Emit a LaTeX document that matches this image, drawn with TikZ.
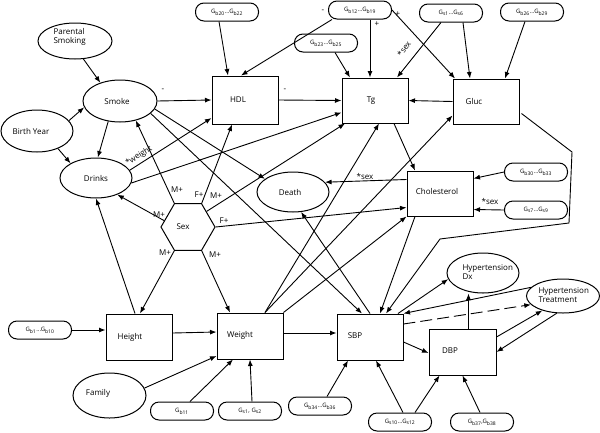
\documentclass[tikz,border=0pt]{standalone}
\usepackage{fontspec}
\setmainfont{Open Sans}
\usetikzlibrary{arrows.meta,shapes.geometric}
\begin{document}
\begin{tikzpicture}[x=1pt,y=-1pt,
  every node/.style={font=\fontsize{8}{9.5}\selectfont},
  ell/.style={draw,line width=1pt,ellipse,inner sep=0pt},
  box/.style={draw,line width=1pt,rectangle,inner sep=0pt,minimum width=66pt,minimum height=46pt},
  gene/.style={draw,line width=1pt,rounded corners=8.5pt,minimum width=63pt,minimum height=18pt,inner sep=0pt,font=\fontsize{6}{7}\selectfont},
  arr/.style={line width=0.9pt,-{Latex[length=6.5pt,width=5pt]}},
  lin/.style={line width=0.9pt},
  lbl/.style={inner sep=0.5pt,font=\fontsize{8}{9.5}\selectfont},
]
\useasboundingbox (0,0) rectangle (600,432);
% ellipses
\node[ell,minimum width=74pt,minimum height=36pt,align=left] (ps) at (75,41) {};
\node[align=left,anchor=west] (pst) at (50,37) {Parental\\Smoking};
\node[ell,minimum width=74pt,minimum height=42pt] (smoke) at (120,101) {};
\node (smoket) at (117,101) {Smoke};
\node[ell,minimum width=72pt,minimum height=42pt] (by) at (37,131) {};
\node (byt) at (31,131) {Birth Year};
\node[ell,minimum width=72pt,minimum height=40pt] (drinks) at (96,178) {Drinks};
\node[ell,minimum width=72pt,minimum height=40pt] (death) at (293,192) {};
\node (deatht) at (290,192) {Death};
\node[ell,minimum width=72pt,minimum height=40pt] (htdx) at (483,273) {};
\node[align=left,anchor=west] (htdxt) at (459,272) {Hypertension\\Dx};
\node[ell,minimum width=73pt,minimum height=34pt] (htt) at (563,296) {};
\node[align=left,anchor=west] (httt) at (535,295) {Hypertension\\Treatment};
\node[ell,minimum width=73pt,minimum height=45pt] (family) at (109.5,395.5) {};
\node (familyt) at (98,393) {Family};
% hexagon
\node[draw,line width=1pt,regular polygon,regular polygon sides=6,minimum size=54pt,inner sep=0pt] (sex) at (188,227) {};
\node (sext) at (183,227) {Sex};
% boxes
\node[box,minimum height=48pt] (hdl) at (245,100) {};
\node (hdlt) at (238,100) {HDL};
\node[box,minimum height=45pt] (tg) at (375,100.5) {};
\node (tgt) at (371,100.5) {Tg};
\node[box,minimum height=45pt] (gluc) at (486,101.5) {};
\node (gluct) at (474,101.5) {Gluc};
\node[box,minimum height=45pt] (chol) at (440,193.5) {};
\node (cholt) at (437,191) {Cholesterol};
\node[box] (height) at (139,337) {};
\node (heightt) at (130,337) {Height};
\node[box] (weight) at (250,336) {};
\node (weightt) at (240,335) {Weight};
\node[box] (sbp) at (370,337) {};
\node (sbpt) at (355,336) {SBP};
\node[box,minimum width=67pt] (dbp) at (462.5,352) {};
\node (dbpt) at (450,351) {DBP};
% genes
\node[gene] (g2022) at (227,12) {G\textsubscript{b20}...G\textsubscript{b22}};
\node[gene] (g1219) at (360,10) {G\textsubscript{b12}...G\textsubscript{b19}};
\node[gene] (g2325) at (326,43) {G\textsubscript{b23}...G\textsubscript{b25}};
\node[gene] (gs16) at (451,13) {G\textsubscript{s1}...G\textsubscript{s6}};
\node[gene] (g2629) at (532,12) {G\textsubscript{b26}...G\textsubscript{b29}};
\node[gene] (g3033) at (536,172) {G\textsubscript{b30}...G\textsubscript{b33}};
\node[gene] (gs79) at (536,210) {G\textsubscript{s7}...G\textsubscript{s9}};
\node[gene] (g110) at (40,330) {G\textsubscript{b1}...G\textsubscript{b10}};
\node[gene] (g11) at (182,411) {G\textsubscript{b11}};
\node[gene] (gs12) at (250,411) {G\textsubscript{s1}, G\textsubscript{s2}};
\node[gene] (g3436) at (320,406) {G\textsubscript{b34}...G\textsubscript{b36}};
\node[gene] (gs1012) at (400,422) {G\textsubscript{s10}...G\textsubscript{s12}};
\node[gene] (g3738) at (482,422) {G\textsubscript{b37},G\textsubscript{b38}};
% edges
\draw[arr] (ps.-65) -- (smoke.137);
\draw[arr] (by.18) -- (smoke.190);
\draw[arr] (by.-40) -- (drinks.150);
\draw[arr] (smoke.-120) -- (drinks.85);
\draw[arr] (smoke.east) -- (hdl.west);
\draw[arr] (hdl.east) -- (tg.west);
\draw[arr] (gluc.west) -- (tg.east);
\draw[arr] ([xshift=-8pt]g2022.south) -- ([xshift=-17pt]hdl.north);
\draw[arr] ([xshift=-28pt]g1219.south) -- ([xshift=-4pt]hdl.north);
\draw[arr] ([xshift=10pt]g1219.south) -- ([xshift=-5pt]tg.north);
\draw[arr] (g1219.east) -- ([xshift=-31pt]gluc.north);
\draw[arr] ([xshift=9pt]g2325.south) -- ([xshift=-25pt]tg.north);
\draw[arr] ([xshift=-10pt]gs16.south) -- ([xshift=22pt]tg.north);
\draw[arr] ([xshift=12pt]gs16.south) -- ([xshift=-16pt]gluc.north);
\draw[arr] ([xshift=-7pt]g2629.south) -- ([xshift=19pt]gluc.north);
\draw[arr] ([xshift=19pt]tg.south) -- ([xshift=-25pt]chol.north);
\draw[arr] ([yshift=14pt]chol.west) -- (death.17);
\draw[arr] (g3033.west) -- ([yshift=15pt]chol.east);
\draw[arr] (gs79.west) -- ([yshift=-16pt]chol.east);
\coordinate (c1) at (572,152);
\coordinate (c2) at (569,223);
\coordinate (c3) at (440,239);
\draw[arr] ([xshift=2pt,yshift=-12pt]gluc.east) -- (c1) -- (c2) -- (c3) -- ([xshift=16pt]sbp.north);
\draw[arr] (smoke.-13) -- (death.155);
\draw[arr] (smoke.-22) -- ([xshift=-8pt]sbp.north);
\draw[arr] (drinks.13) -- ([yshift=-18pt]hdl.west);
\draw[arr] (drinks.-8) -- ([yshift=-12pt]tg.west);
\draw[arr] (sex.120) -- (smoke.-51);
\draw[arr] (sex.165) -- (drinks.-38);
\draw[arr] (sex.60) -- ([xshift=-13pt]hdl.south);
\draw[arr] (sex.40) -- ([xshift=-30pt]tg.south);
\draw[arr] (sex.east) -- ([yshift=-14pt]chol.west);
\draw[arr] (sex.240) -- ([xshift=1pt]height.north);
\draw[arr] (sex.300) -- ([xshift=-20pt]weight.north);
\draw[arr] ([xshift=-4pt]height.north) -- (drinks.south);
\draw[arr] (g110.east) -- ([yshift=7pt]height.west);
\draw[arr] ([yshift=4pt]height.east) -- ([yshift=4pt]weight.west);
\draw[arr] (family.12) -- ([yshift=-20pt]weight.west);
\draw[arr] ([xshift=8pt]g11.north) -- ([xshift=-17pt]weight.south);
\draw[arr] ([xshift=2pt]gs12.north) -- (weight.south);
\draw[arr] ([yshift=3pt]weight.east) -- ([yshift=4pt]sbp.west);
\draw[arr] ([xshift=15pt]weight.north) -- ([xshift=4pt]tg.south);
\draw[arr] ([xshift=15pt]weight.north) -- ([yshift=-14pt]gluc.west);
\draw[arr] (weight.north east) -- (chol.south west);
\draw[arr] (sbp.north) -- (death.-68);
\draw[arr] ([xshift=-25pt]chol.south) -- ([xshift=10pt]sbp.north);
\draw[arr] ([xshift=28pt]sbp.north) -- (htdx.190);
\draw[arr] ([xshift=6pt]dbp.north) -- ([xshift=6pt]dbp.north |- htdx.south);
\draw[arr] ([yshift=-5pt]sbp.east) -- ([yshift=-1pt]dbp.west);
\draw[arr] (htt.165) -- (sbp.north east);
\draw[arr,dashed,dash pattern=on 12pt off 5pt] ([yshift=13pt]sbp.east) -- (htt.195);
\draw[arr] ([yshift=15pt]dbp.east) -- (htt.215);
\draw[arr] (htt.250) -- (dbp.east);
\draw[arr] ([xshift=7pt]g3436.north) -- ([xshift=-22pt]sbp.south);
\draw[arr] ([xshift=3pt]gs1012.north) -- ([xshift=6pt]sbp.south);
\draw[arr] ([xshift=15pt]gs1012.north) -- ([xshift=-23pt]dbp.south);
\draw[arr] ([xshift=-2pt]g3738.north) -- (dbp.south);
% labels
\node[lbl] (l1) at (163,90) {-};
\node[lbl] (l2) at (285,90) {-};
\node[lbl] (l3) at (323,11) {-};
\node[lbl] (l4) at (377,24) {+};
\node[lbl] (l5) at (398,14) {+};
\node[lbl,rotate=53] (l6) at (404,49) {*sex};
\node[lbl] (l7) at (365,176) {*sex};
\node[lbl] (l8) at (490,201) {*sex};
\node[lbl,rotate=32] (l9) at (139,156) {*weight};
\node[lbl] (m1) at (177,190) {M+};
\node[lbl] (m2) at (199,195) {F+};
\node[lbl] (m3) at (216,196) {M+};
\node[lbl] (m4) at (159,215) {M+};
\node[lbl] (m5) at (224,221) {F+};
\node[lbl] (m6) at (165,253) {M+};
\node[lbl] (m7) at (215,255) {M+};
\end{tikzpicture}
\end{document}
